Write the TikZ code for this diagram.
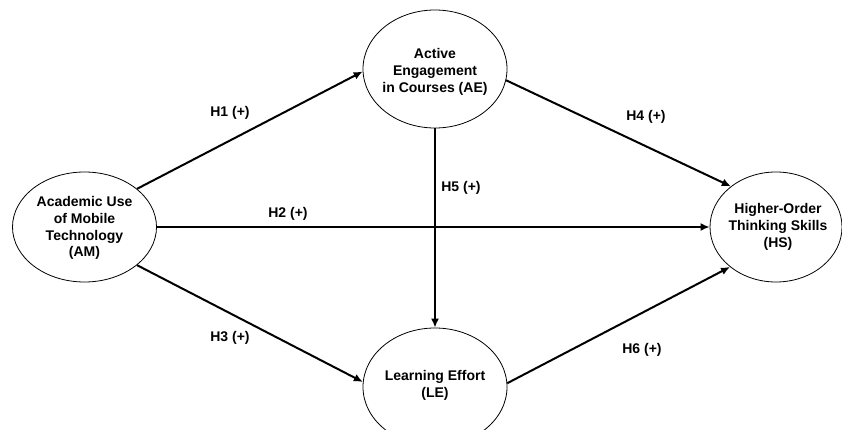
\documentclass[tikz,border=0pt]{standalone}
\usepackage{fontspec}
\setmainfont{Liberation Sans}
\usetikzlibrary{shapes.geometric,arrows.meta}
\tikzset{
  construct/.style={draw=black, line width=0.8pt, ellipse, inner sep=0pt},
  ctext/.style={align=center, font=\bfseries\fontsize{14}{16.8}\selectfont, inner sep=0pt},
  hyp/.style={line width=2pt, -{Latex[length=9pt,width=8pt]}},
  hlabel/.style={font=\bfseries\fontsize{14}{16}\selectfont, inner sep=0pt}
}
\begin{document}
\begin{tikzpicture}[x=1pt,y=-1pt]
\useasboundingbox (0,0) rectangle (842,430);
\node[construct, minimum width=144pt, minimum height=110pt] (AM) at (84.5,227) {};
\node[construct, minimum width=144pt, minimum height=118pt] (AE) at (435,69) {};
\node[construct, minimum width=144pt, minimum height=118pt] (LE) at (435,387) {};
\node[construct, minimum width=132pt, minimum height=110pt] (HS) at (776,227) {};
\node[ctext] (AMt) at (84.5,228) {Academic Use\\of Mobile\\Technology\\(AM)};
\node[ctext] (AEt) at (435,72) {Active\\Engagement\\in Courses (AE)};
\node[ctext] (LEt) at (435,385) {Learning Effort\\(LE)};
\node[ctext] (HSt) at (778,227) {Higher-Order\\Thinking Skills\\(HS)};
\draw[hyp] (AM.36) -- (AE.182);
\draw[hyp] (AM.east) -- (HS.west);
\draw[hyp] (AM.-36) -- (LE.176);
\draw[hyp] (AE.-9) -- (HS.138);
\draw[hyp] (AE.south) -- (LE.north);
\draw[hyp] (LE.3) -- (HS.221);
\node[hlabel] (L1) at (230,113) {H1 (+)};
\node[hlabel] (L2) at (288,214) {H2 (+)};
\node[hlabel] (L3) at (230,338) {H3 (+)};
\node[hlabel] (L4) at (646,117) {H4 (+)};
\node[hlabel] (L5) at (461,188) {H5 (+)};
\node[hlabel] (L6) at (642,350) {H6 (+)};
\end{tikzpicture}
\end{document}
